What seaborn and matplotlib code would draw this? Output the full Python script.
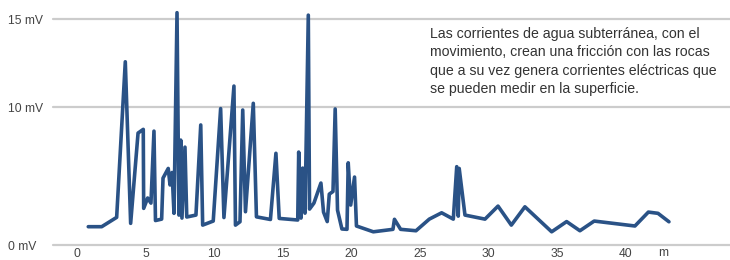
import matplotlib
matplotlib.use("Agg")
import matplotlib.pyplot as plt
import seaborn as sns
import pandas as pd

distance_m = [0.82, 1.80, 2.89, 3.52, 3.91, 4.45, 4.83, 4.86, 5.15, 5.39,
              5.61, 5.72, 6.17, 6.27, 6.65, 6.78, 6.93, 7.07, 7.29, 7.43,
              7.56, 7.65, 7.87, 8.00, 8.67, 9.02, 9.16, 9.93, 10.47, 10.71,
              11.44, 11.55, 11.88, 12.08, 12.28, 12.85, 13.08, 14.10, 14.50, 14.74,
              16.09, 16.16, 16.33, 16.45, 16.62, 16.86, 16.95, 17.27, 17.78, 17.97,
              18.24, 18.39, 18.66, 18.82, 18.99, 19.31, 19.68, 19.77, 19.95, 20.23,
              20.37, 21.60, 23.03, 23.14, 23.59, 24.71, 25.68, 26.58, 27.43, 27.68,
              27.79, 27.86, 28.28, 29.74, 30.69, 31.66, 32.65, 34.60, 35.69, 36.66,
              37.70, 40.67, 41.65, 42.35, 43.15]
voltage_mv = [3.22, 3.22, 3.75, 12.59, 3.41, 8.54, 8.75, 4.26, 4.85, 4.56,
              8.65, 3.57, 3.65, 5.98, 6.53, 5.59, 6.30, 3.98, 15.38, 3.88,
              8.14, 3.71, 7.74, 3.77, 3.88, 9.00, 3.31, 3.54, 9.93, 3.74,
              11.21, 3.31, 3.50, 9.85, 4.07, 10.23, 3.78, 3.63, 7.39, 3.69,
              3.60, 7.46, 3.71, 6.55, 3.99, 15.24, 4.22, 4.56, 5.70, 4.05,
              3.51, 5.07, 5.22, 9.91, 4.16, 3.09, 3.07, 6.85, 4.45, 6.04,
              3.26, 2.93, 3.07, 3.64, 3.07, 2.99, 3.65, 4.01, 3.65, 6.63,
              3.82, 6.53, 3.88, 3.65, 4.39, 3.31, 4.35, 2.93, 3.51, 2.99,
              3.54, 3.26, 4.05, 3.98, 3.50]

x_ticks = [0, 5, 10, 15, 20, 25, 30, 35, 40]
y_ticks = [2.18, 10, 15]
y_tick_labels = ["0 mV", "10 mV", "15 mV"]
x_unit = "m"

note = ("Las corrientes de agua subterránea, con el\n"
        "movimiento, crean una fricción con las rocas\n"
        "que a su vez genera corrientes eléctricas que\n"
        "se pueden medir en la superficie.")

df = pd.DataFrame({"distance": distance_m, "voltage": voltage_mv})

sns.set_style("white")
plt.rcParams["font.family"] = ["Liberation Sans", "DejaVu Sans"]

fig = plt.figure(figsize=(7.3, 2.6), dpi=100)
ax = fig.add_axes([53 / 730, 15 / 260, 677 / 730, 245 / 260])

sns.lineplot(data=df, x="distance", y="voltage", sort=False, estimator=None,
             color="#2a5286", linewidth=2.6, ax=ax, zorder=3)

ax.set_xlim(-1.75, 47.6)
ax.set_ylim(2.18, 16.1)
ax.set_xlabel("")
ax.set_ylabel("")

for s in ax.spines.values():
    s.set_visible(False)

ax.set_yticks(y_ticks)
ax.set_yticklabels(y_tick_labels)
ax.tick_params(axis="y", length=0, pad=32.4, labelsize=8.7, labelcolor="#444444")
for lbl in ax.get_yticklabels():
    lbl.set_horizontalalignment("left")

ax.grid(axis="y", color="#cccccc", linewidth=1.6)
for gl in ax.get_ygridlines():
    gl.set_clip_on(False)
ax.set_axisbelow(True)

ax.set_xticks(x_ticks)
ax.tick_params(axis="x", direction="in", length=6, width=1.2, color="#c4c4c4",
               pad=2.5, labelsize=8.7, labelcolor="#444444")
ax.text(42.7, -0.01, x_unit, transform=ax.get_xaxis_transform(),
        ha="center", va="top", fontsize=8.7, color="#444444")

fig.text(430 / 730, 1 - 27 / 260, note, ha="left", va="top", fontsize=10.2,
         color="#333333", linespacing=1.4)

fig.savefig("out.png", dpi=100)
